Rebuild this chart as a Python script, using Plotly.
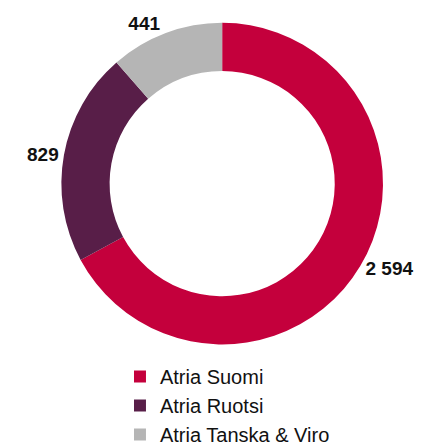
import plotly.graph_objects as go

segments = ['Atria Suomi', 'Atria Ruotsi', 'Atria Tanska & Viro']
sales = [2594, 829, 441]
colors = ['#C4003C', '#581E48', '#B5B5B5']

fig = go.Figure(go.Pie(
    labels=segments, values=sales, hole=0.70, sort=False,
    direction='clockwise', rotation=0,
    marker=dict(colors=colors, line=dict(width=0)),
    textposition='outside', texttemplate='<b>%{value:,}</b>',
    textfont=dict(family='Arial, Liberation Sans', size=19, color='#111111'),
    domain=dict(x=[0.118, 0.869], y=[0.249, 0.980]),
))
fig.update_layout(
    width=434, height=446, separators=', ',
    margin=dict(l=0, r=0, t=0, b=0),
    paper_bgcolor='white', plot_bgcolor='white',
    font=dict(family='Arial, Liberation Sans'),
    legend=dict(x=0.258, y=0, xanchor='left', yanchor='bottom',
                font=dict(size=20, color='#111111'), itemwidth=30),
)
fig.write_html("out.html")
